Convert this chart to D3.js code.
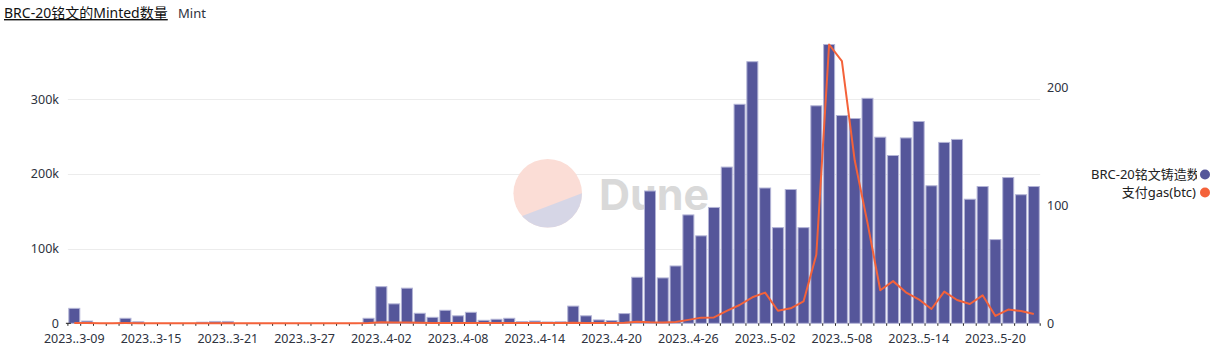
<!DOCTYPE html>
<html><head><meta charset="utf-8">
<script src="https://cdn.jsdelivr.net/npm/d3@7/dist/d3.min.js"></script>
<style>
body{margin:0;background:#fff;}
svg{display:block;font-family:"Noto Sans","Noto Sans CJK SC",sans-serif;}
</style></head><body>
<svg id="c" width="1229" height="348"></svg>
<script>
// ---- data ----
const dates = d3.utcDay.range(new Date(Date.UTC(2023,2,9)), new Date(Date.UTC(2023,4,24)));
const mintCounts = [
  20000, 3000, 0, 0, 6700, 2000, 0, 0, 0, 0, 1500, 2500, 2500, 0, 0, 0, 0, 0, 0, 0, 0, 0, 0,
  6700, 49000, 26000, 47000, 13400, 8000, 17400, 10000, 14700, 4000,
  5400, 6700, 2200, 3000, 1800, 2000, 23000, 10000, 4500, 3600,
  13000, 61600, 177000, 60700, 76700, 145000, 117000, 155000, 209000, 293000,
  350000, 181000, 128000, 179000, 128000, 291000, 373000, 278000, 274000, 301000,
  249000, 224500, 248000, 270000, 184000, 242000, 246000, 166000, 183000, 112000,
  195000, 172000, 183000
];
const gasBtc = [
  0.3, 0.2, 0.1, 0.1, 0.2, 0.1, 0.1, 0.1, 0.1, 0.1, 0.1, 0.1, 0.1, 0.1, 0.1, 0.1, 0.1, 0.1, 0.1, 0.1, 0.1, 0.1, 0.1,
  0.3, 0.9, 0.6, 0.7, 0.4, 0.3, 0.3, 0.3, 0.3, 0.2,
  0.2, 0.2, 0.2, 0.2, 0.2, 0.2, 0.4, 0.3, 0.2, 0.2,
  0.4, 1.3, 0.8, 0.6, 1.1, 2.9, 4.8, 5.0, 10.5, 15.5,
  22, 26, 10.6, 12.7, 18.5, 58, 236, 222, 138, 85,
  28, 35.7, 26.2, 20.3, 12.1, 26.8, 19.7, 16.3, 23.7, 6.2,
  11.6, 10.4, 7.9
];
const xTickLabels = ["2023..3-09","2023..3-15","2023..3-21","2023..3-27","2023..4-02","2023..4-08","2023..4-14","2023..4-20","2023..4-26","2023..5-02","2023..5-08","2023..5-14","2023..5-20"];
const leftTicks = [0, 100000, 200000, 300000];
const rightTicks = [0, 100, 200];
const seriesNames = ["BRC-20铭文铸造数量", "支付gas(btc)"];
const colors = ["#55569a", "#f4623a"];

const data = dates.map((d,i)=>({date:d, mint:mintCounts[i], gas:gasBtc[i]}));
const fmtKey = d3.utcFormat("%m-%d");

const svg = d3.select("#c");
const left = 67.9, right = 1040.2, y0 = 323.3, yTop = 44.5;

const x = d3.scaleBand().domain(data.map(d=>fmtKey(d.date))).range([left,right]).padding(0);
const yL = d3.scaleLinear().domain([0, d3.max(mintCounts)]).range([y0, yTop]);
const yR = d3.scaleLinear().domain([0, d3.max(gasBtc)]).range([y0, yTop]);

// title
svg.append("text").attr("x",4).attr("y",18).attr("font-size",14).attr("fill","#111")
  .attr("text-decoration","underline").text("BRC-20铭文的Minted数量");
svg.append("text").attr("x",178).attr("y",18).attr("font-size",13).attr("fill","#2e3340").text("Mint");

// gridlines
svg.append("g").selectAll("line").data(leftTicks.filter(v=>v>0)).join("line")
  .attr("x1",left).attr("x2",right).attr("y1",d=>Math.round(yL(d))+0.5).attr("y2",d=>Math.round(yL(d))+0.5)
  .attr("stroke","#ececec").attr("stroke-width",1);

// watermark
const wm = svg.append("g");
const cx=547.7, cy=193.3, r=34.3;
wm.append("clipPath").attr("id","wmclip").append("circle").attr("cx",cx).attr("cy",cy).attr("r",r);
wm.append("circle").attr("cx",cx).attr("cy",cy).attr("r",r).attr("fill","#fbddd6");
wm.append("path").attr("clip-path","url(#wmclip)")
  .attr("d",`M${cx-40},${cy+28.2} L${cx+40},${cy-2.3} L${cx+40},${cy+40} L${cx-40},${cy+40} Z`)
  .attr("fill","#d6d6e6");
wm.append("text").attr("x",599).attr("y",210).attr("font-size",43).attr("font-weight",700)
  .attr("font-family","Inter, 'Noto Sans', sans-serif").attr("fill","#d9d9d9").text("Dune");

// bars
svg.append("g").selectAll("rect").data(data.filter(d=>d.mint>0)).join("rect")
  .attr("x",d=>x(fmtKey(d.date))+0.9)
  .attr("width",x.bandwidth()-1.8)
  .attr("y",d=>yL(d.mint))
  .attr("height",d=>y0-yL(d.mint))
  .attr("fill",colors[0])
  .attr("stroke","#b3b4d6").attr("stroke-width",1);

// x tick marks at band edges
const edges = data.map(d=>x(fmtKey(d.date))).concat([right]);
svg.append("g").selectAll("line").data(edges).join("line")
  .attr("x1",d=>d).attr("x2",d=>d).attr("y1",y0).attr("y2",y0+2.5)
  .attr("stroke","#222").attr("stroke-width",1);
svg.append("line").attr("x1",left-2).attr("x2",left+3).attr("y1",y0).attr("y2",y0).attr("stroke","#222");

// line
const line = d3.line().x(d=>x(fmtKey(d.date))+x.bandwidth()/2).y(d=>yR(d.gas));
svg.append("path").datum(data).attr("d",line).attr("fill","none")
  .attr("stroke",colors[1]).attr("stroke-width",2).attr("stroke-linejoin","round");

// x labels
svg.append("g").selectAll("text").data(xTickLabels).join("text")
  .attr("x",(d,i)=>x(fmtKey(dates[i*6]))+x.bandwidth()/2)
  .attr("y",343).attr("text-anchor","middle").attr("font-size",12.5).attr("fill","#2e3340").text(d=>d);

// left axis labels
const fmtK = v => v===0 ? "0" : (v/1000)+"k";
svg.append("g").selectAll("text").data(leftTicks).join("text")
  .attr("x",59).attr("y",d=>yL(d)+4.5).attr("text-anchor","end").attr("font-size",12.5).attr("fill","#2e3340").text(fmtK);

// right axis labels
svg.append("g").selectAll("text").data(rightTicks).join("text")
  .attr("x",1047).attr("y",d=>yR(d)+4.5).attr("text-anchor","start").attr("font-size",12.5).attr("fill","#2e3340").text(d=>d);

// legend
svg.append("clipPath").attr("id","lgclip").append("rect").attr("x",1080).attr("y",160).attr("width",117).attr("height",40);
const lg = svg.append("g");
lg.append("text").attr("x",1091).attr("y",179).attr("font-size",13).attr("fill","#222")
  .attr("clip-path","url(#lgclip)").text(seriesNames[0]);
lg.append("text").attr("x",1196).attr("y",197).attr("text-anchor","end").attr("font-size",13).attr("fill","#222").text(seriesNames[1]);
lg.selectAll("circle").data(colors).join("circle").attr("cx",1205).attr("cy",(d,i)=>174.5+i*18).attr("r",5).attr("fill",d=>d);
</script>
</body></html>
